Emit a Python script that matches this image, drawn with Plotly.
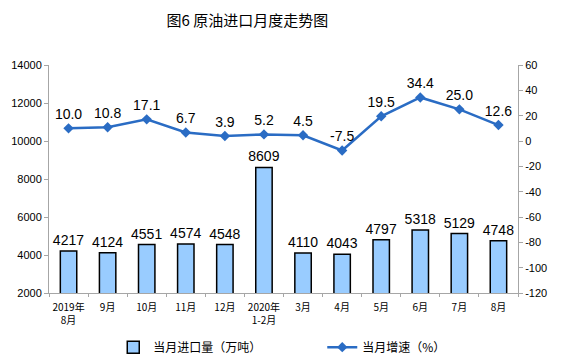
import plotly.graph_objects as go

categories = ["2019年<br>8月", "9月", "10月", "11月", "12月", "2020年<br>1-2月",
              "3月", "4月", "5月", "6月", "7月", "8月"]
volume = [4217, 4124, 4551, 4574, 4548, 8609, 4110, 4043, 4797, 5318, 5129, 4748]
growth = [10.0, 10.8, 17.1, 6.7, 3.9, 5.2, 4.5, -7.5, 19.5, 34.4, 25.0, 12.6]
left_ticks = [2000, 4000, 6000, 8000, 10000, 12000, 14000]
right_ticks = [-120, -100, -80, -60, -40, -20, 0, 20, 40, 60]

cjk = "Noto Sans CJK SC"
num_font = "Liberation Sans"

fig = go.Figure()
fig.add_trace(go.Bar(
    x=categories, y=volume, name="当月进口量（万吨）",
    marker=dict(color="#99CCFF", line=dict(color="#000000", width=1.5)),
    width=0.42,
    text=[str(v) for v in volume], textposition="outside",
    textfont=dict(family=num_font, size=14, color="#000000"),
    constraintext="none",
    cliponaxis=False,
))
fig.add_trace(go.Scatter(
    x=categories, y=growth, name="当月增速（%）", yaxis="y2",
    mode="lines+markers+text",
    line=dict(color="#2A6CC4", width=2.5),
    marker=dict(symbol="diamond", size=8, color="#2A6CC4"),
    text=[f"{v:.1f}" for v in growth], textposition="top center",
    textfont=dict(family=num_font, size=14, color="#000000"),
    cliponaxis=False,
))

fig.update_layout(
    width=554, height=354,
    margin=dict(l=41, r=44, t=57, b=69, autoexpand=False),
    paper_bgcolor="white", plot_bgcolor="white",
    title=dict(text="图6 原油进口月度走势图", x=0.432, xanchor="center",
               y=0.965, yanchor="middle",
               font=dict(family=cjk, size=15, color="#000000")),
    showlegend=True,
    legend=dict(orientation="h", x=0.19, xref="container", xanchor="left",
                y=0.042, yref="container", yanchor="middle",
                font=dict(family=cjk, size=12, color="#000000"),
                entrywidth=164, entrywidthmode="pixels"),
    xaxis=dict(range=[-0.5, 11.5], showline=True, linecolor="#A6A6A6", linewidth=1,
               ticks="outside", tickson="boundaries", ticklen=3, tickcolor="#A6A6A6",
               tickangle=0,
               tickfont=dict(family=cjk, size=10, color="#000000"),
               ticklabelstandoff=5, showgrid=False),
    yaxis=dict(range=[2000, 14000], tickvals=left_ticks,
               ticktext=[str(t) for t in left_ticks],
               showline=True, linecolor="#A6A6A6",
               ticks="outside", ticklen=4, tickcolor="#A6A6A6", showgrid=False,
               zeroline=False,
               tickfont=dict(family=num_font, size=11, color="#000000")),
    yaxis2=dict(range=[-120, 60], tickvals=right_ticks,
                ticktext=[str(t) for t in right_ticks],
                overlaying="y", side="right",
                showline=True, linecolor="#A6A6A6", ticks="outside", ticklen=4,
                tickcolor="#A6A6A6", showgrid=False, zeroline=False,
                tickfont=dict(family=num_font, size=11, color="#000000")),
)

fig.write_html("out.html")
